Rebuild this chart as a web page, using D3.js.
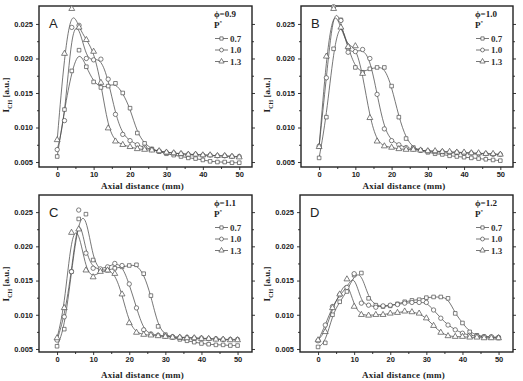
<!DOCTYPE html>
<html>
<head>
<meta charset="utf-8">
<script src="https://cdn.jsdelivr.net/npm/d3@7"></script>
<style>
  body { margin: 0; background: #fff; }
  svg { display: block; }
</style>
</head>
<body>
<svg id="chart" width="523" height="381"></svg>
<script>
// axial distance (mm), one value per measured point
var distance = [0, 2, 4, 6, 8, 10, 12, 14, 16, 18, 20, 22, 24, 26, 28, 30, 32, 34, 36, 38, 40, 42, 44, 46, 48, 50];
var xTicks = [0, 10, 20, 30, 40, 50];
var xMinor = [5, 15, 25, 35, 45];
var yTicks = [0.005, 0.010, 0.015, 0.020, 0.025];
var yTickLabels = ["0.005", "0.010", "0.015", "0.020", "0.025"];
var yMinor = [0.0075, 0.0125, 0.0175, 0.0225];
var pLevels = ["0.7", "1.0", "1.3"];
var panelLetters = ["A", "B", "C", "D"];
var phiValues = ["0.9", "1.0", "1.1", "1.2"];

// I_CH [a.u.] for each phi / P* pair
var phi09_p07 = [0.0058, 0.0126, 0.0182, 0.0212, 0.0188, 0.0166, 0.0158, 0.0160, 0.0164, 0.0150, 0.0128, 0.0092, 0.0077, 0.0069, 0.0065, 0.0062, 0.0060, 0.0058, 0.0056, 0.0055, 0.0053, 0.0051, 0.0050, 0.0050, 0.0049, 0.0049];
var phi09_p10 = [0.0068, 0.0110, 0.0245, 0.0248, 0.0200, 0.0198, 0.0199, 0.0170, 0.0119, 0.0090, 0.0081, 0.0075, 0.0071, 0.0068, 0.0066, 0.0064, 0.0063, 0.0062, 0.0061, 0.0061, 0.0060, 0.0060, 0.0059, 0.0059, 0.0058, 0.0058];
var phi09_p13 = [0.0082, 0.0207, 0.0272, 0.0245, 0.0227, 0.0210, 0.0165, 0.0099, 0.0080, 0.0075, 0.0072, 0.0069, 0.0068, 0.0067, 0.0066, 0.0064, 0.0063, 0.0062, 0.0061, 0.0061, 0.0060, 0.0060, 0.0059, 0.0059, 0.0058, 0.0057];

var phi10_p07 = [0.0056, 0.0115, 0.0214, 0.0256, 0.0215, 0.0187, 0.0180, 0.0185, 0.0187, 0.0187, 0.0160, 0.0115, 0.0084, 0.0071, 0.0067, 0.0064, 0.0062, 0.0061, 0.0059, 0.0058, 0.0057, 0.0056, 0.0055, 0.0054, 0.0053, 0.0052];
var phi10_p10 = [0.0073, 0.0172, 0.0275, 0.0255, 0.0209, 0.0210, 0.0213, 0.0200, 0.0148, 0.0098, 0.0081, 0.0075, 0.0071, 0.0069, 0.0067, 0.0066, 0.0065, 0.0065, 0.0064, 0.0064, 0.0063, 0.0063, 0.0062, 0.0062, 0.0061, 0.0061];
var phi10_p13 = [0.0072, 0.0203, 0.0272, 0.0245, 0.0217, 0.0218, 0.0178, 0.0114, 0.0080, 0.0073, 0.0071, 0.0069, 0.0068, 0.0068, 0.0067, 0.0066, 0.0066, 0.0065, 0.0065, 0.0064, 0.0064, 0.0063, 0.0063, 0.0062, 0.0062, 0.0061];

var phi11_p07 = [0.0054, 0.0079, 0.0163, 0.0240, 0.0247, 0.0180, 0.0165, 0.0165, 0.0168, 0.0170, 0.0172, 0.0173, 0.0160, 0.0128, 0.0083, 0.0071, 0.0067, 0.0064, 0.0062, 0.0060, 0.0058, 0.0057, 0.0056, 0.0056, 0.0055, 0.0055];
var phi11_p10 = [0.0063, 0.0097, 0.0163, 0.0253, 0.0190, 0.0168, 0.0167, 0.0170, 0.0175, 0.0172, 0.0145, 0.0110, 0.0078, 0.0072, 0.0070, 0.0069, 0.0068, 0.0067, 0.0067, 0.0066, 0.0066, 0.0065, 0.0065, 0.0064, 0.0064, 0.0064];
var phi11_p13 = [0.0066, 0.0110, 0.0220, 0.0225, 0.0165, 0.0155, 0.0163, 0.0165, 0.0160, 0.0130, 0.0088, 0.0074, 0.0071, 0.0070, 0.0069, 0.0068, 0.0067, 0.0067, 0.0066, 0.0066, 0.0065, 0.0065, 0.0064, 0.0064, 0.0063, 0.0063];

var phi12_p07 = [0.0053, 0.0059, 0.0100, 0.0119, 0.0134, 0.0158, 0.0161, 0.0124, 0.0114, 0.0112, 0.0113, 0.0116, 0.0119, 0.0121, 0.0122, 0.0125, 0.0126, 0.0126, 0.0124, 0.0102, 0.0088, 0.0075, 0.0070, 0.0068, 0.0067, 0.0066];
var phi12_p10 = [0.0062, 0.0085, 0.0112, 0.0129, 0.0140, 0.0160, 0.0117, 0.0114, 0.0111, 0.0113, 0.0114, 0.0115, 0.0117, 0.0118, 0.0118, 0.0118, 0.0107, 0.0095, 0.0085, 0.0078, 0.0073, 0.0070, 0.0069, 0.0068, 0.0068, 0.0067];
var phi12_p13 = [0.0063, 0.0075, 0.0110, 0.0130, 0.0152, 0.0112, 0.0100, 0.0099, 0.0100, 0.0100, 0.0102, 0.0103, 0.0105, 0.0104, 0.0102, 0.0095, 0.0084, 0.0074, 0.0069, 0.0068, 0.0068, 0.0067, 0.0067, 0.0066, 0.0066, 0.0066];

var panelSeries = [
  [phi09_p07, phi09_p10, phi09_p13],
  [phi10_p07, phi10_p10, phi10_p13],
  [phi11_p07, phi11_p10, phi11_p13],
  [phi12_p07, phi12_p10, phi12_p13]
];

// layout of the four boxes (pixels) and their axis extents
var boxes = [
  {left: 39, right: 252, top: 6, bottom: 167, xDom: [-5, 53.5], yDom: [0.00428, 0.0276], titleDy: 22, labelX: 6},
  {left: 301, right: 513, top: 6, bottom: 167, xDom: [-5, 53.5], yDom: [0.00428, 0.0276], titleDy: 22, labelX: 267},
  {left: 39, right: 252, top: 195, bottom: 352, xDom: [-5, 54], yDom: [0.00456, 0.0275], titleDy: 25.5, labelX: 6},
  {left: 300, right: 513, top: 195, bottom: 352, xDom: [-5, 54], yDom: [0.00456, 0.0275], titleDy: 25.5, labelX: 267}
];

var ink = "#4a4a4a";
var markerTypes = [d3.symbolSquare, d3.symbolCircle, d3.symbolTriangle];
var markerSizes = [13, 15, 15];

var svg = d3.select("#chart");

boxes.forEach(function(b, pi) {
  var x = d3.scaleLinear().domain(b.xDom).range([b.left, b.right]);
  var y = d3.scaleLinear().domain(b.yDom).range([b.bottom, b.top]);
  var g = svg.append("g");

  // axes
  g.append("g")
    .attr("transform", "translate(0," + b.bottom + ")")
    .call(d3.axisBottom(x).tickValues(xTicks).tickSize(3).tickPadding(2).tickFormat(d3.format("d")))
    .call(styleAxis);
  g.append("g")
    .attr("transform", "translate(0," + b.bottom + ")")
    .call(d3.axisBottom(x).tickValues(xMinor).tickSize(2).tickFormat(""))
    .call(styleAxis);
  g.append("g")
    .attr("transform", "translate(" + b.left + ",0)")
    .call(d3.axisLeft(y).tickValues(yTicks).tickSize(3).tickPadding(3)
      .tickFormat(function(d, i) { return yTickLabels[i]; }))
    .call(styleAxis);
  g.append("g")
    .attr("transform", "translate(" + b.left + ",0)")
    .call(d3.axisLeft(y).tickValues(yMinor).tickSize(2).tickFormat(""))
    .call(styleAxis);
  g.append("g")
    .attr("transform", "translate(" + b.right + ",0)")
    .call(d3.axisRight(y).tickValues(yTicks).tickSize(3).tickFormat(""))
    .call(styleAxis);
  g.append("g")
    .attr("transform", "translate(" + b.right + ",0)")
    .call(d3.axisRight(y).tickValues(yMinor).tickSize(2).tickFormat(""))
    .call(styleAxis);

  // frame
  g.append("rect")
    .attr("x", b.left).attr("y", b.top)
    .attr("width", b.right - b.left).attr("height", b.bottom - b.top)
    .attr("fill", "none").attr("stroke", "#222").attr("stroke-width", 1.4);

  // curves (Origin style B-spline)
  var line = d3.line()
    .x(function(d) { return x(d[0]); })
    .y(function(d) { return y(d[1]); })
    .curve(d3.curveBasis);

  panelSeries[pi].forEach(function(vals, si) {
    var pts = distance.map(function(d, i) { return [d, vals[i]]; });
    g.append("path")
      .datum(pts)
      .attr("d", line)
      .attr("fill", "none")
      .attr("stroke", ink)
      .attr("stroke-width", 0.75);
  });
  panelSeries[pi].forEach(function(vals, si) {
    var pts = distance.map(function(d, i) { return [d, vals[i]]; });
    g.selectAll(null)
      .data(pts)
      .enter()
      .append("path")
      .attr("transform", function(d) { return "translate(" + x(d[0]) + "," + y(d[1]) + ")"; })
      .attr("d", d3.symbol().type(markerTypes[si]).size(markerSizes[si]))
      .attr("fill", "#fff")
      .attr("stroke", ink)
      .attr("stroke-width", 0.7);
  });

  // panel letter
  g.append("text")
    .attr("x", b.left + 10).attr("y", b.top + 22)
    .attr("font-family", "Liberation Sans, Arial, sans-serif")
    .attr("font-size", 13)
    .attr("fill", "#222")
    .text(panelLetters[pi]);

  // legend
  var lx = b.right - 38, ly = b.top + 11;
  g.append("text")
    .attr("x", lx).attr("y", ly)
    .attr("font-family", "Liberation Serif, serif")
    .attr("font-weight", "bold")
    .attr("font-size", 9)
    .attr("fill", "#222")
    .text("\u03D5=" + phiValues[pi]);
  var pt = g.append("text")
    .attr("x", lx).attr("y", ly + 10.5)
    .attr("font-family", "Liberation Serif, serif")
    .attr("font-weight", "bold")
    .attr("font-size", 9)
    .attr("fill", "#222")
    .text("P");
  pt.append("tspan").attr("dy", -3.5).attr("font-size", 5).text("*");

  pLevels.forEach(function(p, si) {
    var ry = ly + 21.5 + si * 11.5;
    g.append("line")
      .attr("x1", lx + 1).attr("x2", lx + 14)
      .attr("y1", ry).attr("y2", ry)
      .attr("stroke", ink).attr("stroke-width", 0.75);
    g.append("path")
      .attr("transform", "translate(" + (lx + 7.5) + "," + ry + ")")
      .attr("d", d3.symbol().type(markerTypes[si]).size(markerSizes[si] * 0.8))
      .attr("fill", "#fff").attr("stroke", ink).attr("stroke-width", 0.7);
    g.append("text")
      .attr("x", lx + 16).attr("y", ry + 3)
      .attr("font-family", "Liberation Serif, serif")
      .attr("font-weight", "bold")
      .attr("font-size", 9)
      .attr("fill", "#333")
      .text(p);
  });

  // axis titles
  g.append("text")
    .attr("x", (b.left + b.right) / 2 - 3)
    .attr("y", b.bottom + b.titleDy)
    .attr("text-anchor", "middle")
    .attr("font-family", "Liberation Serif, serif")
    .attr("font-weight", "bold")
    .attr("font-size", 9)
    .attr("letter-spacing", 0.3)
    .attr("fill", "#222")
    .text("Axial distance (mm)");

  var yl = g.append("text")
    .attr("transform", "translate(" + (b.labelX + 3) + "," + (b.top + 89) + ") rotate(-90)")
    .attr("text-anchor", "middle")
    .attr("font-family", "Liberation Serif, serif")
    .attr("font-weight", "bold")
    .attr("font-size", 9)
    .attr("fill", "#222");
  yl.append("tspan").text("I");
  yl.append("tspan").attr("dy", 2.5).attr("font-size", 6).text("CH");
  yl.append("tspan").attr("dy", -2.5).text(" [a.u.]");
});

function styleAxis(sel) {
  sel.select(".domain").remove();
  sel.selectAll(".tick line").attr("stroke", "#222").attr("stroke-width", 0.9);
  sel.selectAll(".tick text")
    .attr("font-family", "Liberation Sans, Arial, sans-serif")
    .attr("font-weight", "bold")
    .attr("font-size", 7.5)
    .attr("fill", "#222");
}
</script>
</body>
</html>
